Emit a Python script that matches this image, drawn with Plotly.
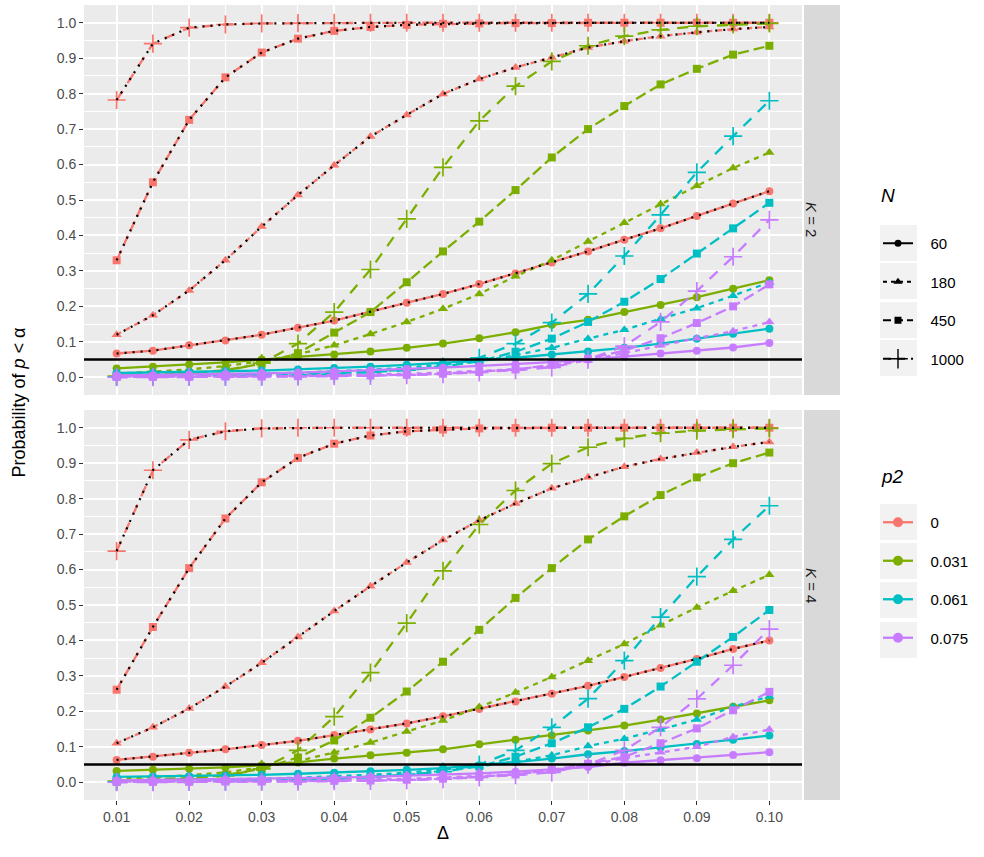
import plotly.graph_objects as go

# ---------------- data ----------------
delta = [0.010, 0.015, 0.020, 0.025, 0.030, 0.035, 0.040, 0.045, 0.050, 0.055,
         0.060, 0.065, 0.070, 0.075, 0.080, 0.085, 0.090, 0.095, 0.100]
p2_levels = ["0", "0.031", "0.061", "0.075"]
n_levels = ["60", "180", "450", "1000"]
k_levels = ["2", "4"]

# K = 2
k2_p0_n60 = [0.067, 0.075, 0.090, 0.104, 0.120, 0.140, 0.160, 0.185, 0.210, 0.235, 0.263, 0.293, 0.324, 0.355, 0.388, 0.420, 0.455, 0.490, 0.525]
k2_p0_n180 = [0.120, 0.175, 0.245, 0.330, 0.425, 0.514, 0.598, 0.679, 0.740, 0.799, 0.841, 0.874, 0.902, 0.930, 0.948, 0.962, 0.973, 0.982, 0.988]
k2_p0_n450 = [0.330, 0.550, 0.726, 0.846, 0.916, 0.955, 0.977, 0.988, 0.994, 0.997, 0.998, 0.999, 0.999, 1.0, 1.0, 1.0, 1.0, 1.0, 1.0]
k2_p0_n1000 = [0.782, 0.941, 0.986, 0.995, 0.998, 0.999, 1.0, 1.0, 1.0, 1.0, 1.0, 1.0, 1.0, 1.0, 1.0, 1.0, 1.0, 1.0, 1.0]
k2_p1_n60 = [0.025, 0.030, 0.036, 0.042, 0.050, 0.058, 0.064, 0.073, 0.083, 0.095, 0.110, 0.127, 0.148, 0.162, 0.184, 0.204, 0.226, 0.250, 0.274]
k2_p1_n180 = [0.010, 0.015, 0.022, 0.032, 0.045, 0.065, 0.090, 0.122, 0.156, 0.193, 0.235, 0.285, 0.330, 0.383, 0.436, 0.489, 0.540, 0.590, 0.634]
k2_p1_n450 = [0.005, 0.008, 0.012, 0.020, 0.038, 0.068, 0.126, 0.184, 0.268, 0.355, 0.439, 0.528, 0.620, 0.700, 0.765, 0.826, 0.870, 0.910, 0.935]
k2_p1_n1000 = [0.003, 0.005, 0.010, 0.018, 0.040, 0.095, 0.184, 0.304, 0.447, 0.592, 0.723, 0.821, 0.891, 0.935, 0.962, 0.980, 0.990, 0.995, 0.998]
k2_p2_n60 = [0.012, 0.013, 0.015, 0.017, 0.019, 0.022, 0.026, 0.030, 0.035, 0.040, 0.047, 0.055, 0.064, 0.073, 0.083, 0.095, 0.109, 0.123, 0.137]
k2_p2_n180 = [0.005, 0.006, 0.007, 0.008, 0.010, 0.013, 0.016, 0.021, 0.027, 0.035, 0.045, 0.062, 0.083, 0.109, 0.134, 0.165, 0.195, 0.230, 0.268]
k2_p2_n450 = [0.002, 0.003, 0.004, 0.005, 0.006, 0.008, 0.011, 0.015, 0.021, 0.030, 0.045, 0.072, 0.109, 0.156, 0.213, 0.277, 0.349, 0.420, 0.492]
k2_p2_n1000 = [0.001, 0.002, 0.002, 0.003, 0.004, 0.006, 0.009, 0.014, 0.020, 0.030, 0.055, 0.095, 0.154, 0.235, 0.342, 0.458, 0.578, 0.680, 0.780]
k2_p3_n60 = [0.005, 0.006, 0.007, 0.009, 0.011, 0.013, 0.016, 0.019, 0.023, 0.027, 0.032, 0.037, 0.043, 0.050, 0.058, 0.067, 0.075, 0.084, 0.097]
k2_p3_n180 = [0.002, 0.002, 0.003, 0.003, 0.004, 0.005, 0.006, 0.008, 0.010, 0.013, 0.017, 0.023, 0.032, 0.048, 0.068, 0.090, 0.110, 0.130, 0.156]
k2_p3_n450 = [0.001, 0.001, 0.001, 0.002, 0.002, 0.003, 0.004, 0.005, 0.007, 0.010, 0.015, 0.022, 0.035, 0.052, 0.075, 0.110, 0.153, 0.200, 0.262]
k2_p3_n1000 = [0.000, 0.000, 0.001, 0.001, 0.001, 0.002, 0.003, 0.004, 0.006, 0.009, 0.014, 0.020, 0.028, 0.050, 0.088, 0.156, 0.243, 0.340, 0.444]

# K = 4
k4_p0_n60 = [0.063, 0.072, 0.083, 0.093, 0.105, 0.117, 0.133, 0.149, 0.166, 0.186, 0.207, 0.228, 0.250, 0.272, 0.297, 0.322, 0.348, 0.376, 0.400]
k4_p0_n180 = [0.110, 0.155, 0.208, 0.270, 0.337, 0.410, 0.483, 0.553, 0.620, 0.683, 0.739, 0.786, 0.829, 0.860, 0.890, 0.912, 0.930, 0.946, 0.960]
k4_p0_n450 = [0.261, 0.438, 0.604, 0.744, 0.846, 0.915, 0.955, 0.978, 0.990, 0.995, 0.998, 0.999, 1.0, 1.0, 1.0, 1.0, 1.0, 1.0, 1.0]
k4_p0_n1000 = [0.652, 0.880, 0.966, 0.990, 0.998, 1.0, 1.0, 1.0, 1.0, 1.0, 1.0, 1.0, 1.0, 1.0, 1.0, 1.0, 1.0, 1.0, 1.0]
k4_p1_n60 = [0.032, 0.035, 0.038, 0.042, 0.048, 0.056, 0.067, 0.076, 0.083, 0.093, 0.107, 0.120, 0.132, 0.146, 0.160, 0.177, 0.194, 0.213, 0.231]
k4_p1_n180 = [0.010, 0.014, 0.020, 0.028, 0.042, 0.060, 0.084, 0.112, 0.143, 0.174, 0.212, 0.253, 0.297, 0.343, 0.390, 0.443, 0.493, 0.540, 0.585]
k4_p1_n450 = [0.005, 0.008, 0.012, 0.020, 0.038, 0.070, 0.118, 0.182, 0.256, 0.340, 0.430, 0.520, 0.604, 0.685, 0.750, 0.810, 0.860, 0.900, 0.930]
k4_p1_n1000 = [0.003, 0.005, 0.010, 0.018, 0.038, 0.090, 0.185, 0.309, 0.449, 0.596, 0.727, 0.823, 0.899, 0.945, 0.970, 0.985, 0.992, 0.996, 0.998]
k4_p2_n60 = [0.015, 0.016, 0.017, 0.019, 0.021, 0.024, 0.027, 0.031, 0.035, 0.040, 0.048, 0.057, 0.067, 0.079, 0.088, 0.098, 0.108, 0.120, 0.132]
k4_p2_n180 = [0.005, 0.006, 0.007, 0.008, 0.010, 0.013, 0.016, 0.021, 0.027, 0.035, 0.045, 0.058, 0.076, 0.102, 0.123, 0.149, 0.177, 0.213, 0.242]
k4_p2_n450 = [0.002, 0.003, 0.004, 0.005, 0.006, 0.008, 0.011, 0.015, 0.021, 0.030, 0.045, 0.072, 0.110, 0.155, 0.207, 0.270, 0.340, 0.410, 0.486]
k4_p2_n1000 = [0.001, 0.002, 0.002, 0.003, 0.004, 0.006, 0.009, 0.014, 0.020, 0.030, 0.050, 0.090, 0.155, 0.236, 0.343, 0.466, 0.580, 0.685, 0.780]
k4_p3_n60 = [0.005, 0.006, 0.007, 0.008, 0.009, 0.011, 0.013, 0.015, 0.018, 0.021, 0.025, 0.030, 0.036, 0.043, 0.055, 0.062, 0.068, 0.077, 0.085]
k4_p3_n180 = [0.002, 0.002, 0.003, 0.003, 0.004, 0.005, 0.006, 0.008, 0.010, 0.013, 0.017, 0.023, 0.032, 0.047, 0.068, 0.085, 0.100, 0.128, 0.149]
k4_p3_n450 = [0.001, 0.001, 0.001, 0.002, 0.002, 0.003, 0.004, 0.005, 0.007, 0.010, 0.015, 0.022, 0.035, 0.052, 0.072, 0.110, 0.152, 0.203, 0.255]
k4_p3_n1000 = [0.000, 0.000, 0.001, 0.001, 0.001, 0.002, 0.003, 0.004, 0.006, 0.009, 0.014, 0.020, 0.028, 0.050, 0.090, 0.155, 0.235, 0.330, 0.432]

alpha_level = 0.05

series = {
    "2": [[k2_p0_n60, k2_p0_n180, k2_p0_n450, k2_p0_n1000],
          [k2_p1_n60, k2_p1_n180, k2_p1_n450, k2_p1_n1000],
          [k2_p2_n60, k2_p2_n180, k2_p2_n450, k2_p2_n1000],
          [k2_p3_n60, k2_p3_n180, k2_p3_n450, k2_p3_n1000]],
    "4": [[k4_p0_n60, k4_p0_n180, k4_p0_n450, k4_p0_n1000],
          [k4_p1_n60, k4_p1_n180, k4_p1_n450, k4_p1_n1000],
          [k4_p2_n60, k4_p2_n180, k4_p2_n450, k4_p2_n1000],
          [k4_p3_n60, k4_p3_n180, k4_p3_n450, k4_p3_n1000]],
}

# ---------------- styles ----------------
colors = ["#F8766D", "#7CAE00", "#00BFC4", "#C77CFF"]
dashes = ["solid", "5px,5px", "11px,5px", "11px,9px"]
symbols = ["circle", "triangle-up", "square", "cross-thin-open"]
msizes = [8, 9, 8, 13]
FONT = "Liberation Sans, Arial, Helvetica, sans-serif"
NB = "\u00a0\u00a0\u00a0"

W, H = 984, 857
L, R, T, B = 84, 182, 5, 57
plot_w = W - L - R
plot_h = H - T - B
panel_h = 390

fig = go.Figure()

axis_names = {"2": ("x", "y"), "4": ("x2", "y2")}

for k in k_levels:
    xa, ya = axis_names[k]
    for pi, p in enumerate(p2_levels):
        for ni, n in enumerate(n_levels):
            vals = series[k][pi][ni]
            mk = dict(symbol=symbols[ni], size=msizes[ni], color=colors[pi],
                      line=dict(width=1.7 if ni == 3 else 0, color=colors[pi]))
            fig.add_trace(go.Scatter(
                x=delta, y=vals, mode="lines+markers", xaxis=xa, yaxis=ya,
                line=dict(color=colors[pi], width=2.3, dash=dashes[ni]),
                marker=mk, showlegend=False, hoverinfo="skip"))
    # theoretical (black dotted) curves for p2 = 0
    for ni, n in enumerate(n_levels):
        fig.add_trace(go.Scatter(
            x=delta, y=series[k][0][ni], mode="lines", xaxis=xa, yaxis=ya,
            line=dict(color="black", width=2.2, dash="2px,6px"),
            showlegend=False, hoverinfo="skip"))

# legend entries
for ni, n in enumerate(n_levels):
    fig.add_trace(go.Scatter(
        x=[None], y=[None], mode="lines+markers", name=NB + n, legend="legend",
        legendgroup="n" + n,
        line=dict(color="black", width=2, dash=["solid", "4px,4px", "8px,4px", "8px,6px"][ni]),
        marker=dict(symbol=symbols[ni], size=[7, 8, 7, 14][ni], color="black",
                    line=dict(width=1.4 if ni == 3 else 0, color="black"))))
for pi, p in enumerate(p2_levels):
    fig.add_trace(go.Scatter(
        x=[None], y=[None], mode="lines+markers", name=NB + p, legend="legend2",
        legendgroup="p" + p,
        line=dict(color=colors[pi], width=2.3),
        marker=dict(symbol="circle", size=10, color=colors[pi])))

def py(px):
    return (H - B - px) / plot_h

def pxx(px):
    return (px - L) / plot_w

top_dom = [1 - panel_h / plot_h, 1]
bot_dom = [0, panel_h / plot_h]

xcommon = dict(range=[0.0055, 0.1045], tickmode="array",
               tickvals=[0.01, 0.02, 0.03, 0.04, 0.05, 0.06, 0.07, 0.08, 0.09, 0.10],
               tickformat=".2f", showgrid=True, gridcolor="white", gridwidth=2,
               minor=dict(dtick=0.005, tick0=0.005, showgrid=True, gridcolor="white", gridwidth=1),
               zeroline=False, showline=False, ticks="outside", ticklen=4, tickwidth=1.3,
               tickcolor="#333333", tickfont=dict(family=FONT, size=14, color="#4D4D4D"))
ycommon = dict(range=[-0.05, 1.05], tickmode="array",
               tickvals=[i / 10 for i in range(11)], tickformat=".1f",
               showgrid=True, gridcolor="white", gridwidth=2,
               minor=dict(tickvals=[0.05 + i / 10 for i in range(10)], showgrid=True,
                          gridcolor="white", gridwidth=1),
               zeroline=False, showline=False, ticks="outside", ticklen=4, tickwidth=1.3,
               tickcolor="#333333", tickfont=dict(family=FONT, size=14, color="#4D4D4D"))

fig.update_layout(
    xaxis=dict(xcommon, domain=[0, 1], anchor="y", matches="x2", showticklabels=False, ticks=""),
    yaxis=dict(ycommon, domain=top_dom, anchor="x"),
    xaxis2=dict(xcommon, domain=[0, 1], anchor="y2",
                title=dict(text="Δ", font=dict(family=FONT, size=18, color="black"), standoff=2)),
    yaxis2=dict(ycommon, domain=bot_dom, anchor="x2"),
)

shapes = []
annotations = []
for k, (xa, ya) in axis_names.items():
    shapes.append(dict(type="line", xref=xa + " domain", yref=ya, x0=0, x1=1,
                       y0=alpha_level, y1=alpha_level, line=dict(color="black", width=2.6),
                       layer="above"))
    dom = top_dom if k == "2" else bot_dom
    shapes.append(dict(type="rect", xref="paper", yref="paper", x0=pxx(804), x1=pxx(840),
                       y0=dom[0], y1=dom[1], fillcolor="#D9D9D9", line=dict(width=0)))
    annotations.append(dict(xref="paper", yref="paper", x=pxx(822), y=(dom[0] + dom[1]) / 2,
                            text="<i>K</i> = " + k, textangle=90, showarrow=False,
                            font=dict(family=FONT, size=15, color="#1A1A1A")))

# legend key backgrounds
for cy in [243, 281, 320, 358, 522, 561, 600, 640]:
    shapes.append(dict(type="rect", xref="paper", yref="paper", x0=pxx(880), x1=pxx(917),
                       y0=py(cy + 18), y1=py(cy - 18), fillcolor="#F2F2F2", line=dict(width=0),
                       layer="below"))

# legend titles
annotations.append(dict(xref="paper", yref="paper", x=pxx(879), y=py(196), xanchor="left",
                        yanchor="middle", showarrow=False, text="<i>N</i>",
                        font=dict(family=FONT, size=19, color="black")))
annotations.append(dict(xref="paper", yref="paper", x=pxx(879), y=py(476), xanchor="left",
                        yanchor="middle", showarrow=False, text="<i>p2</i>",
                        font=dict(family=FONT, size=19, color="black")))

annotations.append(dict(xref="paper", yref="paper", x=pxx(18), y=0.5, xanchor="center",
                        yanchor="middle", textangle=-90, showarrow=False,
                        text="Probability of <i>p</i> < α",
                        font=dict(family=FONT, size=18, color="black")))

fig.update_layout(
    width=W, height=H, margin=dict(l=L, r=R, t=T, b=B),
    paper_bgcolor="white", plot_bgcolor="#EBEBEB",
    font=dict(family=FONT, color="black"),
    shapes=shapes, annotations=annotations,
    legend=dict(x=pxx(878), y=py(227), xanchor="left", yanchor="top",
                bgcolor="rgba(0,0,0,0)", tracegroupgap=16,
                font=dict(family=FONT, size=15, color="black")),
    legend2=dict(x=pxx(878), y=py(506), xanchor="left", yanchor="top",
                 bgcolor="rgba(0,0,0,0)", tracegroupgap=16,
                 font=dict(family=FONT, size=15, color="black")),
)

fig.write_html("out.html", config={"displayModeBar": False},
               post_script="document.body.style.margin='0px';")
